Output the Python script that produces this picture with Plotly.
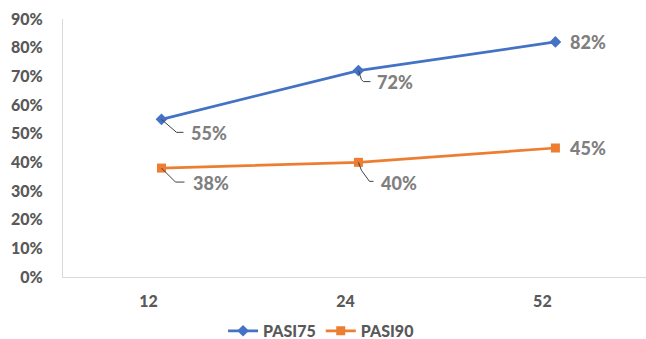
import plotly.graph_objects as go

# Week of assessment and response rates
weeks = ["12", "24", "52"]
pasi75 = [0.55, 0.72, 0.82]
pasi90 = [0.38, 0.40, 0.45]
y_ticks = [0.0, 0.1, 0.2, 0.3, 0.4, 0.5, 0.6, 0.7, 0.8, 0.9]

# Label placement (pixel offsets from each point) and leader-line paths
label_offsets_75 = [(28, -14), (17, -11), (13, 0)]
label_offsets_90 = [(30, -15), (21, -21), (13, 0)]
leaders_75 = ["M0,0 L15,-13 L22,-13", "M0,0 L3,-9 L5,-11 L12,-11", None]
leaders_90 = ["M0,0 L14,-14 L23,-14", "M0,0 L3,-8 L11,-19 L15,-19", None]

BLUE = "#4472C4"
ORANGE = "#ED7D31"
FONT = "Lato"
WEIGHT = 900

xs = list(range(len(weeks)))

fig = go.Figure()
fig.add_trace(go.Scatter(
    x=xs, y=pasi75, name="PASI75", mode="lines+markers",
    line=dict(color=BLUE, width=2.75),
    marker=dict(symbol="diamond", size=9, color=BLUE),
))
fig.add_trace(go.Scatter(
    x=xs, y=pasi90, name="PASI90", mode="lines+markers",
    line=dict(color=ORANGE, width=2.75),
    marker=dict(symbol="square", size=9, color=ORANGE),
))

annotations = []
shapes = []
for series, offsets, leaders in ((pasi75, label_offsets_75, leaders_75),
                                 (pasi90, label_offsets_90, leaders_90)):
    for i, v in enumerate(series):
        dx, dy = offsets[i]
        annotations.append(dict(
            x=xs[i], y=v, xref="x", yref="y",
            text=f"{round(v * 100)}%", showarrow=False,
            xanchor="left", yanchor="middle", xshift=dx, yshift=dy,
            font=dict(family=FONT, size=18, color="#7F7F7F", weight=WEIGHT),
        ))
        if leaders[i]:
            shapes.append(dict(
                type="path", xref="x", yref="y",
                xsizemode="pixel", ysizemode="pixel",
                xanchor=xs[i], yanchor=v, path=leaders[i],
                line=dict(color="#404040", width=1),
            ))

fig.update_layout(
    width=646, height=339,
    margin=dict(l=63, r=0, t=19, b=62, autoexpand=False),
    paper_bgcolor="white", plot_bgcolor="white",
    showlegend=True,
    legend=dict(
        orientation="h", xref="container", yref="container",
        x=0.497, xanchor="center", y=0.024, yanchor="middle",
        font=dict(family=FONT, size=16, color="#595959", weight=WEIGHT),
        itemwidth=30, tracegroupgap=0,
    ),
    annotations=annotations,
    shapes=shapes,
)
fig.update_xaxes(
    range=[-0.5, 2.46], tickvals=xs, ticktext=weeks,
    showgrid=False, zeroline=False,
    showline=True, linecolor="#D9D9D9", linewidth=1,
    ticks="", ticklabelstandoff=10, ticklabelshift=-13,
    tickfont=dict(family=FONT, size=16, color="#595959", weight=WEIGHT),
)
fig.update_yaxes(
    range=[0, 0.9], tickvals=y_ticks,
    ticktext=[f"{round(t * 100)}%" for t in y_ticks],
    showgrid=False, zeroline=False,
    showline=True, linecolor="#D9D9D9", linewidth=1,
    ticks="", ticklabelstandoff=16,
    tickfont=dict(family=FONT, size=16, color="#595959", weight=WEIGHT),
)

fig.write_html("out.html")
